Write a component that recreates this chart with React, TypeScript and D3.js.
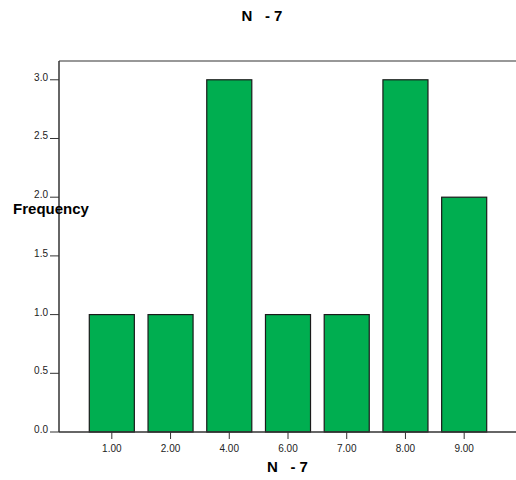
import React from "react";
import * as d3 from "d3";

const categories = ["1.00", "2.00", "4.00", "6.00", "7.00", "8.00", "9.00"];
const frequencies = [1, 1, 3, 1, 1, 3, 2];
const yTicks = [0, 0.5, 1, 1.5, 2, 2.5, 3];
const chartTitle = "N   - 7";
const xTitle = "N   - 7";
const yTitle = "Frequency";

export default function App() {
  const W = 516, H = 480;
  const left = 59, right = 516, top = 61, bottom = 432;
  const x = d3.scaleBand<string>().domain(categories).range([89.3, 486.7]).paddingInner(0.233).paddingOuter(0);
  const y = d3.scaleLinear().domain([0, 3.16]).range([bottom, top]);
  const font = "Arial, 'Liberation Sans', Helvetica, sans-serif";
  return (
    <svg width={W} height={H} style={{ position: "absolute", left: 0, top: 0, background: "#fff" }} fontFamily={font}>
      <text x={262} y={21} textAnchor="middle" fontSize={15} fontWeight="bold" style={{ whiteSpace: "pre" }}>{chartTitle}</text>
      <line x1={left} x2={right} y1={top} y2={top} stroke="#333" strokeWidth={1.2} />
      {categories.map((c, i) => (
        <rect key={c} x={x(c)} y={y(frequencies[i])} width={x.bandwidth()} height={bottom - y(frequencies[i])}
          fill="#00AE50" stroke="#1a1a1a" strokeWidth={1.2} />
      ))}
      <line x1={left} x2={left} y1={top} y2={bottom} stroke="#333" strokeWidth={1.5} />
      <line x1={left} x2={right} y1={bottom} y2={bottom} stroke="#333" strokeWidth={1.5} />
      {yTicks.map((t) => (
        <g key={t}>
          <line x1={left - 9} x2={left} y1={y(t)} y2={y(t)} stroke="#333" strokeWidth={1} />
          <text x={left - 11} y={y(t)} dy="0.1em" textAnchor="end" fontSize={10} fill="#222">{t.toFixed(1)}</text>
        </g>
      ))}
      {categories.map((c) => {
        const cx = (x(c) as number) + x.bandwidth() / 2;
        return (
          <g key={c}>
            <line x1={cx} x2={cx} y1={bottom} y2={bottom + 7} stroke="#333" strokeWidth={1} />
            <text x={cx} y={452} textAnchor="middle" fontSize={10} fill="#222">{c}</text>
          </g>
        );
      })}
      <text x={51} y={214} textAnchor="middle" fontSize={15} fontWeight="bold">{yTitle}</text>
      <text x={287.5} y={472} textAnchor="middle" fontSize={15} fontWeight="bold" style={{ whiteSpace: "pre" }}>{xTitle}</text>
    </svg>
  );
}
